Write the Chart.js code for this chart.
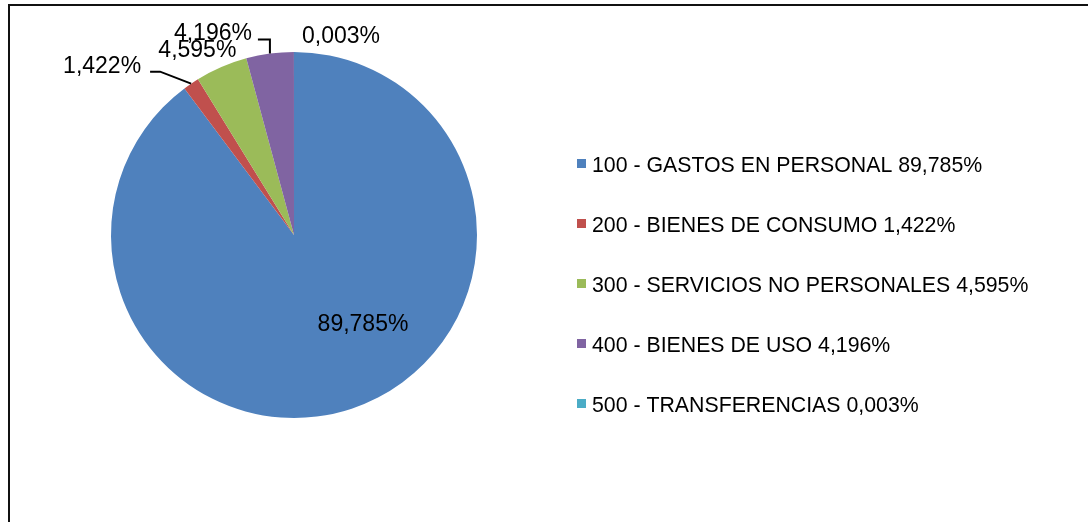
<!DOCTYPE html>
<html>
<head>
<meta charset="utf-8">
<script src="https://cdn.jsdelivr.net/npm/chart.js@4"></script>
<style>
  html, body { margin: 0; padding: 0; background: #fff; }
  #wrap { position: relative; width: 1088px; height: 522px; overflow: hidden; }
  #frame { position: absolute; left: 8px; top: 4px; width: 1200px; height: 700px;
           border-top: 2px solid #111; border-left: 2px solid #111; box-sizing: border-box; }
  canvas { position: absolute; left: 0; top: 0; }
</style>
</head>
<body>
<div id="wrap">
  <div id="frame"></div>
  <canvas id="c" width="1088" height="522"></canvas>
</div>
<script>
const categories = [
  "100 - GASTOS EN PERSONAL",
  "200 - BIENES DE CONSUMO",
  "300 - SERVICIOS NO PERSONALES",
  "400 - BIENES DE USO",
  "500 - TRANSFERENCIAS"
];
const values = [89.785, 1.422, 4.595, 4.196, 0.003];
const valueLabels = ["89,785%", "1,422%", "4,595%", "4,196%", "0,003%"];
const colors = ["#4F81BD", "#C0504D", "#9BBB59", "#8064A2", "#4BACC6"];

const FONT = '"Liberation Sans", Arial, sans-serif';

// label placement relative to the slice's outer mid point (layout only)
const labelPlacement = [
  { inside: true, dx: 69, dy: 96, align: "center" },
  { dx: -50, dy: -11, align: "right", leader: [[-31, -12], [-41, -12]] },
  { dx: -24, dy: -10, align: "center" },
  { dx: -18, dy: -14, align: "right", leader: [[0, -14], [-12, -14]] },
  { dx: 47, dy: -9, align: "center" }
];

const labelsPlugin = {
  id: "sliceLabels",
  afterDatasetsDraw(chart) {
    const ctx = chart.ctx;
    const meta = chart.getDatasetMeta(0);
    ctx.save();
    ctx.font = "23px " + FONT;
    ctx.fillStyle = "#000";
    ctx.strokeStyle = "#000";
    ctx.lineWidth = 2;
    meta.data.forEach((arc, i) => {
      const p = labelPlacement[i];
      const mid = (arc.startAngle + arc.endAngle) / 2;
      let bx, by;
      if (p.inside) {
        bx = arc.x; by = arc.y;
      } else {
        bx = arc.x + Math.cos(mid) * arc.outerRadius;
        by = arc.y + Math.sin(mid) * arc.outerRadius;
      }
      if (p.leader) {
        ctx.beginPath();
        ctx.moveTo(bx, by);
        p.leader.forEach(pt => ctx.lineTo(bx + pt[0], by + pt[1]));
        ctx.stroke();
      }
      ctx.textAlign = p.align;
      ctx.textBaseline = "alphabetic";
      ctx.fillText(valueLabels[i], bx + p.dx, by + p.dy);
    });
    ctx.restore();
  }
};

const legendPlugin = {
  id: "customLegend",
  afterDraw(chart) {
    const ctx = chart.ctx;
    ctx.save();
    ctx.font = "21.3px " + FONT;
    ctx.textAlign = "left";
    ctx.textBaseline = "alphabetic";
    const x0 = 577, base0 = 172, step = 60;
    categories.forEach((c, i) => {
      const b = base0 + step * i;
      ctx.fillStyle = colors[i];
      ctx.fillRect(x0, b - 13, 9, 9);
      ctx.fillStyle = "#000";
      ctx.fillText(c + " " + valueLabels[i], x0 + 15, b);
    });
    ctx.restore();
  }
};

new Chart(document.getElementById("c"), {
  type: "pie",
  data: {
    labels: categories,
    datasets: [{
      data: values,
      backgroundColor: colors,
      borderWidth: 0
    }]
  },
  options: {
    responsive: false,
    animation: false,
    devicePixelRatio: 1,
    rotation: 0,
    layout: { padding: { left: 111, right: 611, top: 52, bottom: 104 } },
    plugins: {
      legend: { display: false },
      tooltip: { enabled: false },
      title: { display: false }
    }
  },
  plugins: [labelsPlugin, legendPlugin]
});
</script>
</body>
</html>
